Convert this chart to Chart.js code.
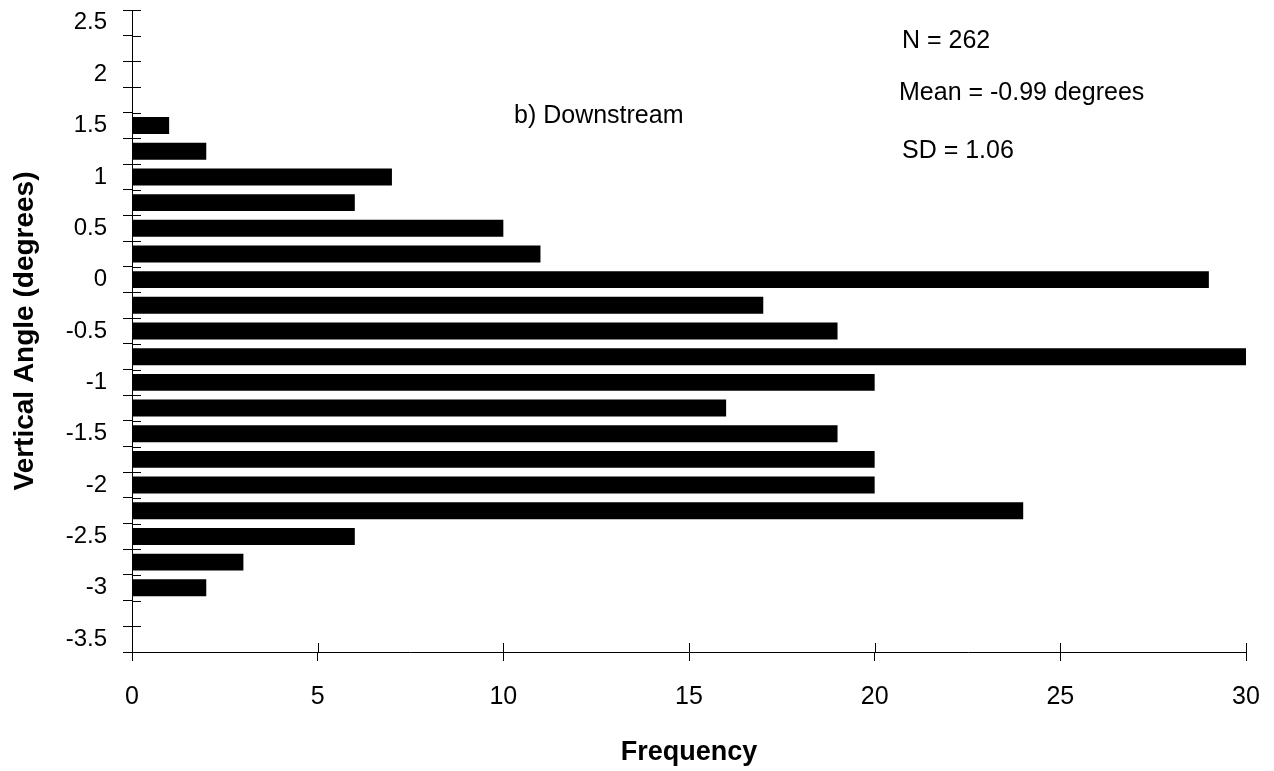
<!DOCTYPE html>
<html>
<head>
<meta charset="utf-8">
<script src="https://cdn.jsdelivr.net/npm/chart.js@4/dist/chart.umd.min.js"></script>
<style>
  html, body { margin: 0; padding: 0; background: #fff; }
  #c { display: block; }
</style>
</head>
<body>
<canvas id="c" width="1274" height="771"></canvas>
<script>
// Category slots along the vertical axis (degrees), top to bottom
const axisCategories = ['2.5','2.25','2','1.75','1.5','1.25','1','0.75','0.5','0.25','0',
  '-0.25','-0.5','-0.75','-1','-1.25','-1.5','-1.75','-2','-2.25','-2.5','-2.75','-3','-3.25','-3.5'];
// Histogram bins (vertical angle, degrees) and their frequencies
const binAngles = ['1.5','1.25','1','0.75','0.5','0.25','0','-0.25','-0.5','-0.75','-1',
  '-1.25','-1.5','-1.75','-2','-2.25','-2.5','-2.75','-3'];
const frequencies = [1, 2, 7, 6, 10, 11, 29, 17, 19, 30, 20, 16, 19, 20, 20, 24, 6, 3, 2];
// Labelled ticks shown on the vertical axis
const yTickLabels = ['2.5','2','1.5','1','0.5','0','-0.5','-1','-1.5','-2','-2.5','-3','-3.5'];
const xTickValues = [0, 5, 10, 15, 20, 25, 30];
const statsLines = ['N = 262', 'Mean = -0.99 degrees', 'SD = 1.06'];
const panelLabel = 'b) Downstream';

const FONT = "'Liberation Sans', Arial, Helvetica, sans-serif";

const innerTicks = {
  id: 'innerTicks',
  afterDatasetsDraw(chart) {
    const ctx = chart.ctx;
    const xs = chart.scales.x, ys = chart.scales.y;
    const L = 9;
    ctx.save();
    ctx.strokeStyle = '#000';
    ctx.lineWidth = 1;
    ctx.beginPath();
    // y axis: ticks at category boundaries, inward part
    const n = ys.ticks.length;
    const half = (ys.getPixelForTick(1) - ys.getPixelForTick(0)) / 2;
    for (let i = 0; i <= n; i++) {
      const p = Math.round(ys.getPixelForTick(Math.min(i, n - 1)) + (i === n ? half : -half)) + 0.5;
      ctx.moveTo(xs.left, p);
      ctx.lineTo(xs.left + L, p);
    }
    // x axis: inward part
    xs.ticks.forEach((t) => {
      const p = Math.round(xs.getPixelForValue(t.value)) + 0.5;
      ctx.moveTo(p, ys.bottom);
      ctx.lineTo(p, ys.bottom - L);
    });
    ctx.stroke();
    ctx.restore();
  }
};

const annotations = {
  id: 'annotations',
  afterDraw(chart) {
    const ctx = chart.ctx;
    ctx.save();
    ctx.fillStyle = '#000';
    ctx.textAlign = 'left';
    ctx.textBaseline = 'alphabetic';
    ctx.font = '25px ' + FONT;
    ctx.fillText(statsLines[0], 902, 48);
    ctx.fillText(statsLines[1], 899, 100);
    ctx.fillText(statsLines[2], 902, 158);
    ctx.fillText(panelLabel, 514, 123);
    ctx.restore();
  }
};

new Chart(document.getElementById('c'), {
  type: 'bar',
  data: {
    labels: axisCategories,
    datasets: [{
      data: binAngles.map((a, i) => ({ x: frequencies[i], y: a })),
      backgroundColor: '#000',
      borderWidth: 0,
      categoryPercentage: 1.0,
      barPercentage: 0.66
    }]
  },
  options: {
    indexAxis: 'y',
    responsive: false,
    animation: false,
    events: [],
    layout: { padding: { top: 10, right: 28, left: 0, bottom: 0 } },
    plugins: { legend: { display: false }, tooltip: { enabled: false }, title: { display: false } },
    scales: {
      x: {
        type: 'linear',
        min: 0, max: 30,
        afterBuildTicks(scale) { scale.ticks = xTickValues.map(v => ({ value: v })); },
        afterFit(scale) { scale.height = 119; scale.paddingLeft = 0; scale.paddingRight = 0; },
        grid: { drawOnChartArea: false, tickLength: 9, color: '#000', lineWidth: 1 },
        border: { display: true, color: '#000', width: 1 },
        ticks: { color: '#000', font: { family: FONT, size: 25 }, padding: 21, maxRotation: 0 },
        title: { display: true, text: 'Frequency', color: '#000',
                 font: { family: FONT, size: 27, weight: 'bold' }, padding: { top: 3, bottom: 2 } }
      },
      y: {
        type: 'category',
        offset: true,
        afterFit(scale) { scale.width = 132; scale.paddingTop = 0; scale.paddingBottom = 0; },
        grid: { offset: true, drawOnChartArea: false, tickLength: 9, color: '#000', lineWidth: 1 },
        border: { display: true, color: '#000', width: 1 },
        ticks: {
          autoSkip: false,
          color: '#000',
          font: { family: FONT, size: 24 },
          padding: 16,
          callback(value) {
            const lab = this.getLabelForValue(value);
            return yTickLabels.includes(lab) ? lab : '';
          }
        },
        title: { display: true, text: 'Vertical Angle (degrees)', color: '#000',
                 font: { family: FONT, size: 28, weight: 'bold' }, padding: { top: 8, bottom: 8 } }
      }
    }
  },
  plugins: [innerTicks, annotations]
});
</script>
</body>
</html>
